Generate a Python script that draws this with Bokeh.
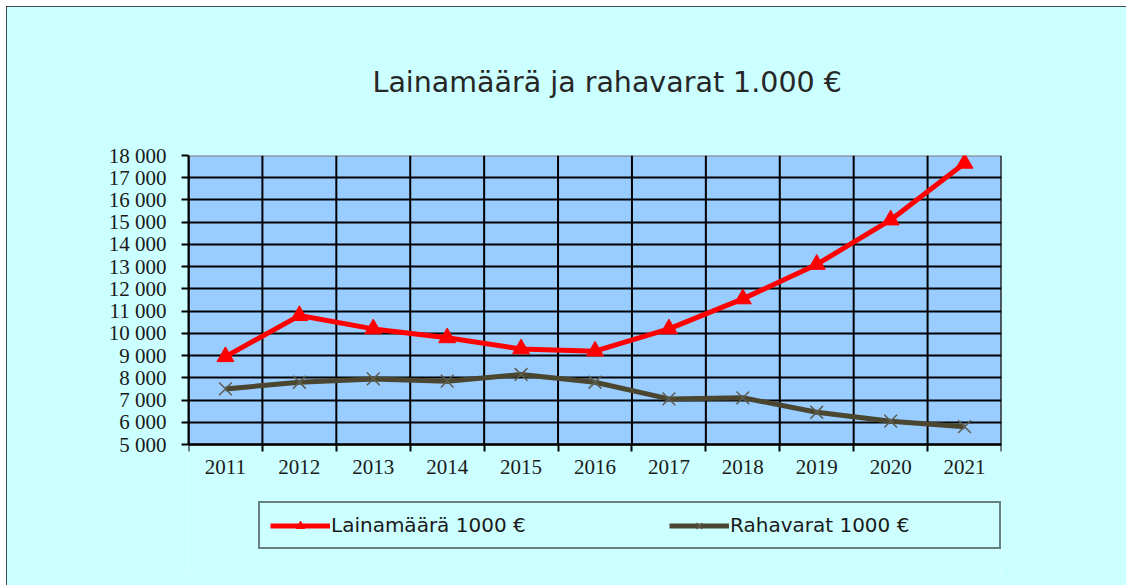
from bokeh.plotting import figure
from bokeh.models import Range1d, FixedTicker, Legend, LegendItem
from bokeh.embed import file_html
from bokeh.resources import INLINE

years = [2011, 2012, 2013, 2014, 2015, 2016, 2017, 2018, 2019, 2020, 2021]
laina = [8950, 10800, 10200, 9800, 9300, 9200, 10200, 11550, 13100, 15100, 17650]
raha = [7500, 7800, 7950, 7850, 8150, 7800, 7050, 7100, 6450, 6050, 5800]
y_ticks = [5000, 6000, 7000, 8000, 9000, 10000, 11000, 12000, 13000, 14000, 15000, 16000, 17000, 18000]
y_tick_labels = ["5 000", "6 000", "7 000", "8 000", "9 000", "10 000", "11 000", "12 000",
                 "13 000", "14 000", "15 000", "16 000", "17 000", "18 000"]
title_text = "Lainamäärä ja rahavarat 1.000 €"
label_laina = "Lainamäärä 1000 €"
label_raha = "Rahavarat 1000 €"

boundaries = [y - 0.5 for y in years] + [years[-1] + 0.5]

# frame extends below the plot area so that the legend can sit inside it
PLOT_H, FRAME_H = 289, 420
y_lo = y_ticks[-1] - (y_ticks[-1] - y_ticks[0]) * FRAME_H / PLOT_H

p = figure(frame_width=813, frame_height=FRAME_H, output_backend="svg", toolbar_location=None,
           x_range=Range1d(years[0] - 0.5, years[-1] + 0.5),
           y_range=Range1d(y_lo, y_ticks[-1]),
           min_border_left=182, min_border_right=125, min_border_top=149, min_border_bottom=10)
p.styles = {"margin-left": "6px", "margin-top": "6px",
            "outline": "2px solid #111", "outline-offset": "-2px"}
p.border_fill_color = "#CCFFFF"
p.background_fill_color = "#CCFFFF"
p.outline_line_color = None

# title
p.title.text = title_text
p.title.align = "left"
p.title.offset = 184
p.title.standoff = 114
p.title.text_font = "DejaVu Sans"
p.title.text_font_size = "28.5px"
p.title.text_font_style = "normal"
p.title.text_color = "#262626"

# plot area fill
p.quad(left=[boundaries[0]], right=[boundaries[-1]], bottom=[y_ticks[0]], top=[y_ticks[-1]],
       fill_color="#99CCFF", line_color="#808080", line_width=2, level="image")

# grids
p.xgrid.visible = False
p.segment(x0=boundaries, y0=[y_ticks[0]] * len(boundaries), x1=boundaries,
          y1=[y_ticks[-1]] * len(boundaries), line_color="#000000", line_width=2, level="underlay")
p.ygrid.ticker = FixedTicker(ticks=y_ticks)
p.ygrid.grid_line_color = "#000000"
p.ygrid.grid_line_width = 2

# y axis
ya = p.yaxis[0]
ya.bounds = (y_ticks[0], y_ticks[-1])
ya.ticker = FixedTicker(ticks=y_ticks)
ya.major_label_overrides = {t: l for t, l in zip(y_ticks, y_tick_labels)}
ya.axis_line_color = "#000000"
ya.axis_line_width = 2
ya.major_tick_out = 7
ya.major_tick_in = 0
ya.major_tick_line_width = 2
ya.minor_tick_line_color = None
ya.major_label_standoff = 15
ya.major_label_text_font = "Liberation Serif"
ya.major_label_text_font_size = "21px"
ya.major_label_text_color = "#1a1a1a"

# x axis, fixed at the bottom of the plot area
xa = p.xaxis[0]
xa.fixed_location = y_ticks[0]
xa.ticker = FixedTicker(ticks=years, minor_ticks=boundaries)
xa.major_label_overrides = {y: str(y) for y in years}
xa.axis_line_color = "#000000"
xa.axis_line_width = 2
xa.major_tick_out = 0
xa.major_tick_in = 0
xa.minor_tick_out = 7
xa.minor_tick_in = 0
xa.minor_tick_line_color = "#000000"
xa.minor_tick_line_width = 2
xa.major_label_standoff = 8
xa.major_label_text_font = "Liberation Serif"
xa.major_label_text_font_size = "21px"
xa.major_label_text_color = "#1a1a1a"

# series
r1 = p.line(years, laina, line_color="#FF0000", line_width=5)
m1 = p.scatter(years, laina, marker="triangle", size=17, fill_color="#FF0000", line_color="#FF0000")
r2 = p.line(years, raha, line_color="#4A4630", line_width=5)
m2 = p.scatter(years, raha, marker="x", size=18, line_color="#5E5C4E", line_width=1.5)

legend = Legend(items=[LegendItem(label=label_laina, renderers=[r1, m1]),
                       LegendItem(label=label_raha, renderers=[r2, m2])],
                orientation="horizontal", location=(70, 26),
                padding=10, margin=0, spacing=79, glyph_width=60, glyph_height=21,
                label_height=21, label_standoff=1, label_width=259,
                label_text_font="DejaVu Sans", label_text_font_size="20px",
                label_text_color="#1a1a1a",
                border_line_color="#000000", border_line_width=2,
                background_fill_color="#CCFFFF", background_fill_alpha=1.0)
p.add_layout(legend, "center")

open("out.html", "w").write(file_html(p, INLINE))
